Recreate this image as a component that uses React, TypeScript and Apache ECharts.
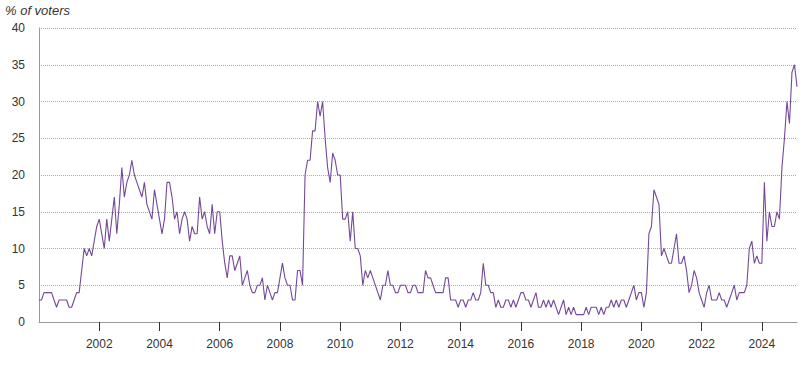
import React, { useEffect, useRef } from "react";
import * as echarts from "echarts";

// Monthly share of voters (%), starting January 2000
const START_YEAR = 2000;
const V2000 = [3, 3, 4, 4, 4, 4, 3, 2, 3, 3, 3, 3];
const V2001 = [2, 2, 3, 4, 4, 7, 10, 9, 10, 9, 11, 13];
const V2002 = [14, 12, 10, 14, 11, 14, 17, 12, 16, 21, 17, 19];
const V2003 = [20, 22, 20, 19, 18, 17, 19, 16, 15, 14, 18, 16];
const V2004 = [14, 12, 14, 19, 19, 17, 14, 15, 12, 14, 15, 14];
const V2005 = [11, 13, 12, 12, 17, 14, 15, 13, 12, 16, 12, 15];
const V2006 = [15, 11, 8, 6, 9, 9, 7, 8, 9, 5, 6, 7];
const V2007 = [5, 4, 4, 5, 5, 6, 3, 5, 4, 3, 4, 4];
const V2008 = [6, 8, 6, 5, 5, 3, 3, 7, 7, 5, 20, 22];
const V2009 = [22, 26, 26, 30, 28, 30, 25, 21, 19, 23, 22, 20];
const V2010 = [20, 14, 14, 15, 11, 15, 10, 10, 9, 5, 7, 6];
const V2011 = [7, 6, 5, 4, 3, 5, 5, 7, 5, 5, 4, 4];
const V2012 = [5, 5, 5, 4, 4, 5, 5, 4, 4, 4, 7, 6];
const V2013 = [6, 5, 4, 4, 4, 4, 6, 6, 3, 3, 3, 2];
const V2014 = [3, 3, 2, 3, 3, 4, 3, 3, 4, 8, 5, 5];
const V2015 = [4, 4, 2, 3, 2, 2, 3, 3, 2, 3, 2, 3];
const V2016 = [4, 4, 3, 3, 2, 3, 4, 2, 2, 3, 2, 3];
const V2017 = [2, 3, 2, 1, 2, 3, 1, 2, 1, 2, 1, 1];
const V2018 = [1, 1, 2, 1, 2, 2, 2, 1, 2, 1, 2, 2];
const V2019 = [3, 2, 3, 2, 3, 3, 2, 3, 4, 5, 3, 4];
const V2020 = [4, 2, 4, 12, 13, 18, 17, 16, 9, 10, 9, 8];
const V2021 = [8, 10, 12, 8, 8, 9, 7, 4, 5, 7, 6, 4];
const V2022 = [3, 2, 4, 5, 3, 3, 3, 4, 3, 3, 2, 3];
const V2023 = [4, 5, 3, 4, 4, 4, 5, 10, 11, 8, 9, 8];
const V2024 = [8, 19, 11, 15, 13, 13, 15, 14, 21, 25, 30, 27];
const V2025 = [34, 35, 32];

const VALUES = [
  ...V2000, ...V2001, ...V2002, ...V2003, ...V2004, ...V2005, ...V2006,
  ...V2007, ...V2008, ...V2009, ...V2010, ...V2011, ...V2012, ...V2013,
  ...V2014, ...V2015, ...V2016, ...V2017, ...V2018, ...V2019, ...V2020,
  ...V2021, ...V2022, ...V2023, ...V2024, ...V2025,
];

const YEAR_LABELS = [2002, 2004, 2006, 2008, 2010, 2012, 2014, 2016, 2018, 2020, 2022, 2024];
const Y_MIN = 0;
const Y_MAX = 40;
const Y_STEP = 5;
const TITLE = "% of voters";

export default function App() {
  const ref = useRef<HTMLDivElement>(null);
  useEffect(() => {
    if (!ref.current) return;
    const chart = echarts.init(ref.current, undefined, { renderer: "svg" });
    const data = VALUES.map((v, i) => [START_YEAR + i / 12, v]);
    const xMax = START_YEAR + (VALUES.length - 1) / 12;
    chart.setOption({
      animation: false,
      title: {
        text: TITLE,
        left: 5,
        top: 0,
        padding: [4, 0, 0, 0],
        textStyle: {
          fontFamily: "Liberation Sans, Arial, sans-serif",
          fontStyle: "italic",
          fontWeight: "normal",
          fontSize: 13,
          color: "#333",
        },
      },
      grid: { left: 39, right: 8, top: 28, bottom: 43 },
      xAxis: {
        type: "value",
        min: START_YEAR,
        max: xMax,
        axisLine: { show: true, lineStyle: { color: "#999", width: 1 } },
        axisTick: {
          show: true,
          customValues: YEAR_LABELS,
          length: 9,
          lineStyle: { color: "#333", width: 1 },
        },
        axisLabel: {
          customValues: YEAR_LABELS,
          formatter: (v: number) => String(Math.round(v)),
          fontFamily: "Liberation Sans, Arial, sans-serif",
          fontSize: 12,
          color: "#333",
          margin: 16,
        },
        splitLine: { show: false },
      },
      yAxis: {
        type: "value",
        min: Y_MIN,
        max: Y_MAX,
        interval: Y_STEP,
        axisLine: { show: true, lineStyle: { color: "#999", width: 1 } },
        axisTick: { show: false },
        axisLabel: {
          fontFamily: "Liberation Sans, Arial, sans-serif",
          fontSize: 12,
          color: "#333",
          margin: 14,
        },
        splitLine: { show: true, lineStyle: { type: "dotted", color: "#aaa", width: 1 } },
      },
      series: [
        {
          type: "line",
          data,
          showSymbol: false,
          symbol: "none",
          lineStyle: { color: "#74499a", width: 1.1 },
          itemStyle: { color: "#74499a" },
        },
      ],
    });
    return () => chart.dispose();
  }, []);
  return (
    <div
      ref={ref}
      style={{ position: "fixed", left: 0, top: 0, width: 805, height: 365, background: "#fff" }}
    />
  );
}
